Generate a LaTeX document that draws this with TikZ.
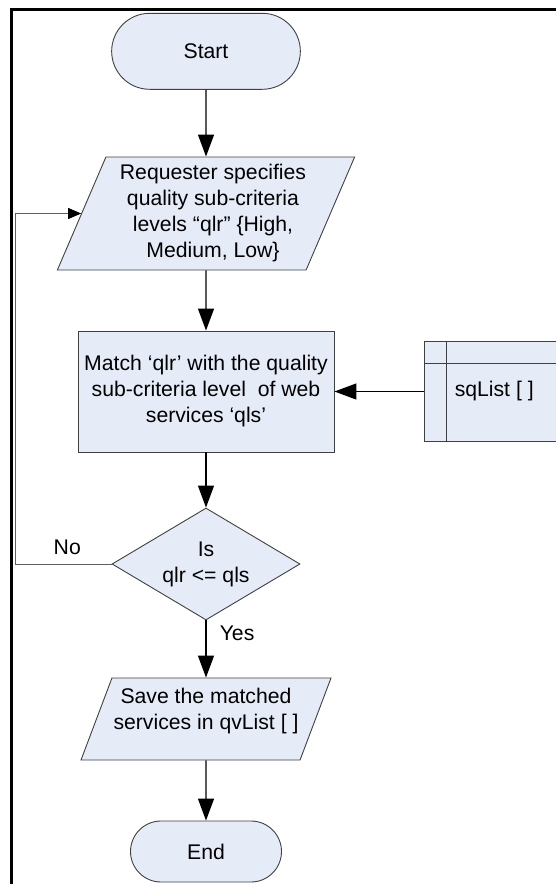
\documentclass[tikz,border=0pt]{standalone}
\usepackage{fontspec}
\setmainfont{Liberation Sans}
\usetikzlibrary{shapes.geometric, arrows.meta, positioning}
\definecolor{boxfill}{RGB}{230,236,247}
\definecolor{boxline}{RGB}{64,64,64}
\definecolor{backline}{RGB}{96,96,96}

\begin{document}
\begin{tikzpicture}[x=1pt, y=-1pt,
	flow/.style={-{Triangle[length=22pt, width=16pt]}, line width=1.4pt},
	back/.style={-{Triangle[length=13pt, width=11pt, color=black]}, draw=backline, line width=0.9pt},
	box/.style={draw=boxline, fill=boxfill, line width=0.9pt, inner sep=0pt, align=center},
	term/.style={box, rectangle, rounded corners=#1},
	io/.style={box, trapezium, trapezium left angle=63.6, trapezium right angle=116.4, trapezium stretches body}]\fontsize{21.2}{26}\selectfont
	\useasboundingbox (0,0) rectangle (556,884);
	\draw[line width=3pt, line join=miter] (11.3,884) -- (11.3,9.7) -- (556,9.7);
	\node at (206,51.3) [term=38pt, minimum width=188.7pt, minimum height=76pt] (start) {Start};
	\node [below of=start, node distance=162.2pt, io, minimum width=282pt, minimum height=113pt] (req) {\hspace*{14pt}Requester specifies\\\hspace*{14pt}quality sub-criteria\\\hspace*{14pt}levels “qlr” \{High,\\\hspace*{14pt}Medium, Low\}};
	\node [below of=req, node distance=178pt, box, minimum width=256pt, minimum height=121pt] (match) {Match ‘qlr’ with the quality\\sub-criteria level~ of web\\services ‘qls’};
	\node [below of=match, node distance=172.5pt, box, diamond, aspect=1.68, minimum width=188pt, minimum height=112pt] (isq) {Is\\qlr <= qls};
	\node [below of=isq, node distance=155pt, io, minimum width=250pt, minimum height=82pt, text depth=21pt] (save) {Save the matched\\services in qvList [ ]};
	\node [below of=save, node distance=132.5pt, term=30.5pt, minimum width=151pt, minimum height=61pt] (ende) {End};
	\node [right of=match, node distance=284pt, box, minimum width=132pt, minimum height=100pt] (sqL) {};
	\draw[draw=boxline, line width=0.9pt] ([xshift=23pt]sqL.north west) -- ([xshift=23pt]sqL.south west);
	\draw[draw=boxline, line width=0.9pt] ([yshift=-22pt]sqL.north west) -- ([yshift=-22pt]sqL.north east);
	\node [right=31pt of sqL.west, inner sep=0pt] (sqText) {sqList [ ]};
	\draw[flow] (start) -- (req);
	\draw[flow] (req) -- (match);
	\draw[flow] (match) -- (isq);
	\draw[flow] (isq) -- node [pos=0.22, right=6pt] (yes) {Yes} (save);
	\draw[flow] (save) -- (ende);
	\draw[flow] (sqL.west) -- (sqL.west -| match.east);
	\draw[back] (isq.west) -- ++(-96.3,0) node [pos=0.46, above=2pt] (no) {No} |- (req.west);
\end{tikzpicture}
\end{document}
